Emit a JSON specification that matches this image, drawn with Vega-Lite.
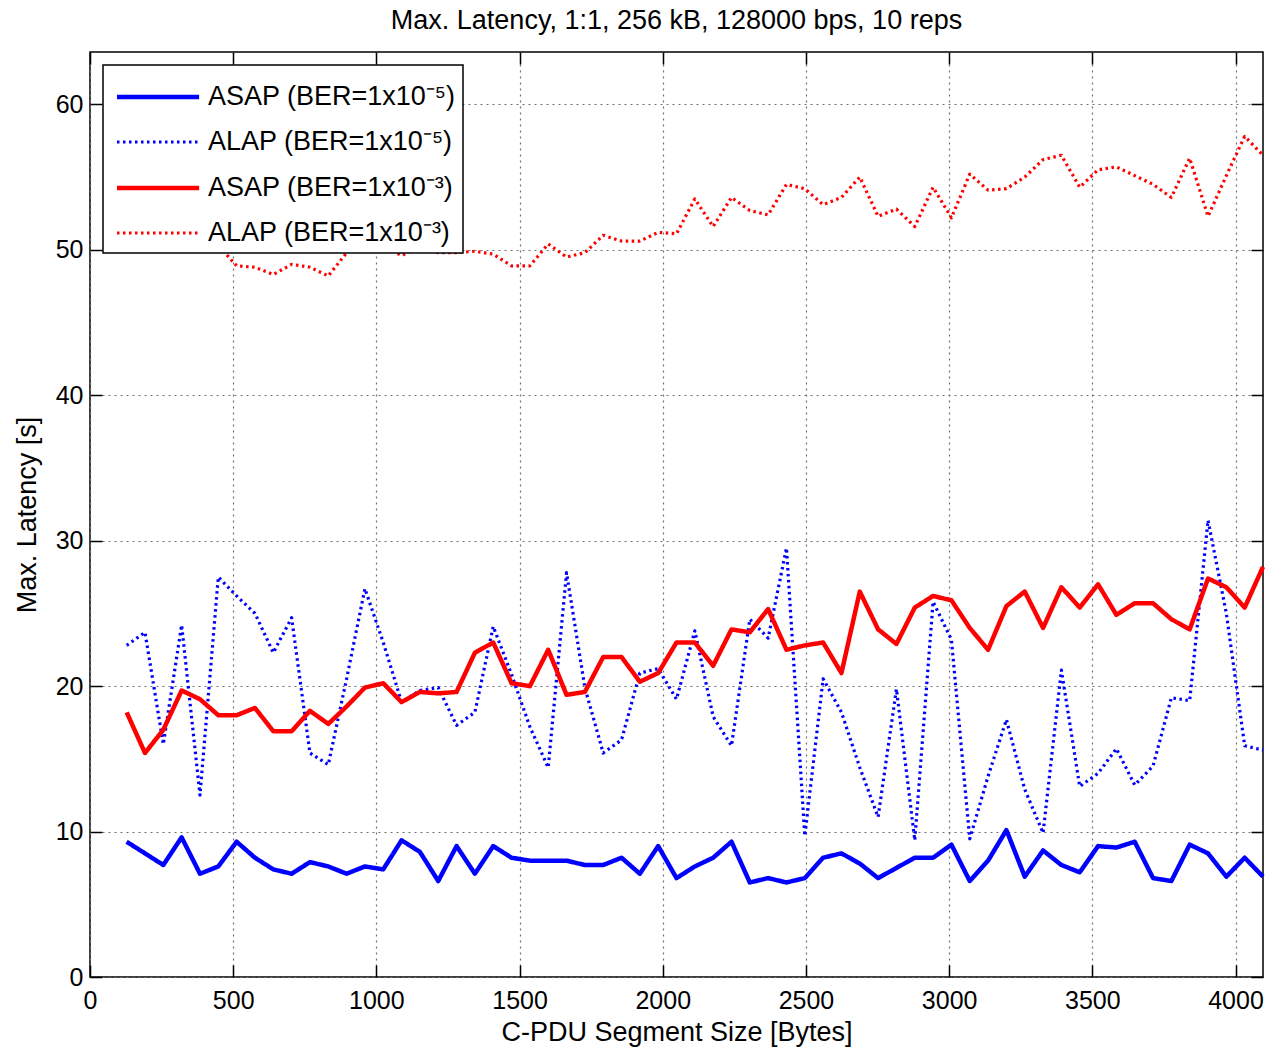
{
  "$schema": "https://vega.github.io/schema/vega-lite/v6.json",
  "autosize": {"type": "none"},
  "width": 1173,
  "height": 925,
  "padding": {"left": 90, "top": 52, "right": 6, "bottom": 73},
  "background": "white",
  "title": {
    "text": "Max. Latency, 1:1, 256 kB, 128000 bps, 10 reps",
    "font": "Liberation Sans",
    "fontSize": 27,
    "fontWeight": "normal",
    "color": "#000000",
    "anchor": "middle",
    "offset": 16
  },
  "config": {
    "view": {"stroke": "#000000", "strokeWidth": 1.5},
    "font": "Liberation Sans",
    "axis": {
      "labelFont": "Liberation Sans",
      "labelFontSize": 25,
      "labelColor": "#000000",
      "titleFont": "Liberation Sans",
      "titleFontSize": 27,
      "titleFontWeight": "normal",
      "titleColor": "#000000",
      "tickColor": "#000000",
      "tickSize": -12,
      "tickWidth": 1.5,
      "domain": false,
      "gridColor": "#707070",
      "gridDash": [2, 4],
      "gridWidth": 1.2,
      "gridOpacity": 1,
      "labelFlush": false,
      "labelOverlap": false,
      "format": "d"
    },
    "axisX": {"labelPadding": 23, "titlePadding": 6},
    "axisY": {"labelPadding": 19, "titlePadding": 14},
    "legend": {
      "orient": "top-left",
      "offset": 13,
      "fillColor": "#ffffff",
      "strokeColor": "#000000",
      "strokeWidth": 1.5,
      "cornerRadius": 0,
      "padding": 7,
      "rowPadding": 7.5,
      "labelFont": "Liberation Sans",
      "labelFontSize": 27,
      "labelColor": "#000000",
      "labelOffset": 48,
      "labelLimit": 400,
      "symbolType": "M-0.8,0H2.85",
      "symbolSize": 2025
    }
  },
  "data": {
    "values": [
      {"series": "ASAP (BER=1x10⁻⁵)", "size": 128, "latency": 9.3},
      {"series": "ASAP (BER=1x10⁻⁵)", "size": 192, "latency": 8.5},
      {"series": "ASAP (BER=1x10⁻⁵)", "size": 256, "latency": 7.7},
      {"series": "ASAP (BER=1x10⁻⁵)", "size": 320, "latency": 9.6},
      {"series": "ASAP (BER=1x10⁻⁵)", "size": 384, "latency": 7.1},
      {"series": "ASAP (BER=1x10⁻⁵)", "size": 448, "latency": 7.6},
      {"series": "ASAP (BER=1x10⁻⁵)", "size": 512, "latency": 9.3},
      {"series": "ASAP (BER=1x10⁻⁵)", "size": 576, "latency": 8.2},
      {"series": "ASAP (BER=1x10⁻⁵)", "size": 640, "latency": 7.4},
      {"series": "ASAP (BER=1x10⁻⁵)", "size": 704, "latency": 7.1},
      {"series": "ASAP (BER=1x10⁻⁵)", "size": 768, "latency": 7.9},
      {"series": "ASAP (BER=1x10⁻⁵)", "size": 832, "latency": 7.6},
      {"series": "ASAP (BER=1x10⁻⁵)", "size": 896, "latency": 7.1},
      {"series": "ASAP (BER=1x10⁻⁵)", "size": 960, "latency": 7.6},
      {"series": "ASAP (BER=1x10⁻⁵)", "size": 1024, "latency": 7.4},
      {"series": "ASAP (BER=1x10⁻⁵)", "size": 1088, "latency": 9.4},
      {"series": "ASAP (BER=1x10⁻⁵)", "size": 1152, "latency": 8.6},
      {"series": "ASAP (BER=1x10⁻⁵)", "size": 1216, "latency": 6.6},
      {"series": "ASAP (BER=1x10⁻⁵)", "size": 1280, "latency": 9.0},
      {"series": "ASAP (BER=1x10⁻⁵)", "size": 1344, "latency": 7.1},
      {"series": "ASAP (BER=1x10⁻⁵)", "size": 1408, "latency": 9.0},
      {"series": "ASAP (BER=1x10⁻⁵)", "size": 1472, "latency": 8.2},
      {"series": "ASAP (BER=1x10⁻⁵)", "size": 1536, "latency": 8.0},
      {"series": "ASAP (BER=1x10⁻⁵)", "size": 1600, "latency": 8.0},
      {"series": "ASAP (BER=1x10⁻⁵)", "size": 1664, "latency": 8.0},
      {"series": "ASAP (BER=1x10⁻⁵)", "size": 1728, "latency": 7.7},
      {"series": "ASAP (BER=1x10⁻⁵)", "size": 1792, "latency": 7.7},
      {"series": "ASAP (BER=1x10⁻⁵)", "size": 1856, "latency": 8.2},
      {"series": "ASAP (BER=1x10⁻⁵)", "size": 1920, "latency": 7.1},
      {"series": "ASAP (BER=1x10⁻⁵)", "size": 1984, "latency": 9.0},
      {"series": "ASAP (BER=1x10⁻⁵)", "size": 2048, "latency": 6.8},
      {"series": "ASAP (BER=1x10⁻⁵)", "size": 2112, "latency": 7.6},
      {"series": "ASAP (BER=1x10⁻⁵)", "size": 2176, "latency": 8.2},
      {"series": "ASAP (BER=1x10⁻⁵)", "size": 2240, "latency": 9.3},
      {"series": "ASAP (BER=1x10⁻⁵)", "size": 2304, "latency": 6.5},
      {"series": "ASAP (BER=1x10⁻⁵)", "size": 2368, "latency": 6.8},
      {"series": "ASAP (BER=1x10⁻⁵)", "size": 2432, "latency": 6.5},
      {"series": "ASAP (BER=1x10⁻⁵)", "size": 2496, "latency": 6.8},
      {"series": "ASAP (BER=1x10⁻⁵)", "size": 2560, "latency": 8.2},
      {"series": "ASAP (BER=1x10⁻⁵)", "size": 2624, "latency": 8.5},
      {"series": "ASAP (BER=1x10⁻⁵)", "size": 2688, "latency": 7.8},
      {"series": "ASAP (BER=1x10⁻⁵)", "size": 2752, "latency": 6.8},
      {"series": "ASAP (BER=1x10⁻⁵)", "size": 2816, "latency": 7.5},
      {"series": "ASAP (BER=1x10⁻⁵)", "size": 2880, "latency": 8.2},
      {"series": "ASAP (BER=1x10⁻⁵)", "size": 2944, "latency": 8.2},
      {"series": "ASAP (BER=1x10⁻⁵)", "size": 3008, "latency": 9.1},
      {"series": "ASAP (BER=1x10⁻⁵)", "size": 3072, "latency": 6.6},
      {"series": "ASAP (BER=1x10⁻⁵)", "size": 3136, "latency": 8.0},
      {"series": "ASAP (BER=1x10⁻⁵)", "size": 3200, "latency": 10.1},
      {"series": "ASAP (BER=1x10⁻⁵)", "size": 3264, "latency": 6.9},
      {"series": "ASAP (BER=1x10⁻⁵)", "size": 3328, "latency": 8.7},
      {"series": "ASAP (BER=1x10⁻⁵)", "size": 3392, "latency": 7.7},
      {"series": "ASAP (BER=1x10⁻⁵)", "size": 3456, "latency": 7.2},
      {"series": "ASAP (BER=1x10⁻⁵)", "size": 3520, "latency": 9.0},
      {"series": "ASAP (BER=1x10⁻⁵)", "size": 3584, "latency": 8.9},
      {"series": "ASAP (BER=1x10⁻⁵)", "size": 3648, "latency": 9.3},
      {"series": "ASAP (BER=1x10⁻⁵)", "size": 3712, "latency": 6.8},
      {"series": "ASAP (BER=1x10⁻⁵)", "size": 3776, "latency": 6.6},
      {"series": "ASAP (BER=1x10⁻⁵)", "size": 3840, "latency": 9.1},
      {"series": "ASAP (BER=1x10⁻⁵)", "size": 3904, "latency": 8.5},
      {"series": "ASAP (BER=1x10⁻⁵)", "size": 3968, "latency": 6.9},
      {"series": "ASAP (BER=1x10⁻⁵)", "size": 4032, "latency": 8.2},
      {"series": "ASAP (BER=1x10⁻⁵)", "size": 4096, "latency": 6.9},

      {"series": "ALAP (BER=1x10⁻⁵)", "size": 128, "latency": 22.8},
      {"series": "ALAP (BER=1x10⁻⁵)", "size": 192, "latency": 23.7},
      {"series": "ALAP (BER=1x10⁻⁵)", "size": 256, "latency": 16.0},
      {"series": "ALAP (BER=1x10⁻⁵)", "size": 320, "latency": 24.2},
      {"series": "ALAP (BER=1x10⁻⁵)", "size": 384, "latency": 12.5},
      {"series": "ALAP (BER=1x10⁻⁵)", "size": 448, "latency": 27.5},
      {"series": "ALAP (BER=1x10⁻⁵)", "size": 512, "latency": 26.2},
      {"series": "ALAP (BER=1x10⁻⁵)", "size": 576, "latency": 25.0},
      {"series": "ALAP (BER=1x10⁻⁵)", "size": 640, "latency": 22.3},
      {"series": "ALAP (BER=1x10⁻⁵)", "size": 704, "latency": 24.7},
      {"series": "ALAP (BER=1x10⁻⁵)", "size": 768, "latency": 15.4},
      {"series": "ALAP (BER=1x10⁻⁵)", "size": 832, "latency": 14.6},
      {"series": "ALAP (BER=1x10⁻⁵)", "size": 896, "latency": 20.5},
      {"series": "ALAP (BER=1x10⁻⁵)", "size": 960, "latency": 26.7},
      {"series": "ALAP (BER=1x10⁻⁵)", "size": 1024, "latency": 23.0},
      {"series": "ALAP (BER=1x10⁻⁵)", "size": 1088, "latency": 18.9},
      {"series": "ALAP (BER=1x10⁻⁵)", "size": 1152, "latency": 19.7},
      {"series": "ALAP (BER=1x10⁻⁵)", "size": 1216, "latency": 19.9},
      {"series": "ALAP (BER=1x10⁻⁵)", "size": 1280, "latency": 17.3},
      {"series": "ALAP (BER=1x10⁻⁵)", "size": 1344, "latency": 18.2},
      {"series": "ALAP (BER=1x10⁻⁵)", "size": 1408, "latency": 24.1},
      {"series": "ALAP (BER=1x10⁻⁵)", "size": 1472, "latency": 20.8},
      {"series": "ALAP (BER=1x10⁻⁵)", "size": 1536, "latency": 17.2},
      {"series": "ALAP (BER=1x10⁻⁵)", "size": 1600, "latency": 14.4},
      {"series": "ALAP (BER=1x10⁻⁵)", "size": 1664, "latency": 27.8},
      {"series": "ALAP (BER=1x10⁻⁵)", "size": 1728, "latency": 19.9},
      {"series": "ALAP (BER=1x10⁻⁵)", "size": 1792, "latency": 15.4},
      {"series": "ALAP (BER=1x10⁻⁵)", "size": 1856, "latency": 16.3},
      {"series": "ALAP (BER=1x10⁻⁵)", "size": 1920, "latency": 20.9},
      {"series": "ALAP (BER=1x10⁻⁵)", "size": 1984, "latency": 21.2},
      {"series": "ALAP (BER=1x10⁻⁵)", "size": 2048, "latency": 19.1},
      {"series": "ALAP (BER=1x10⁻⁵)", "size": 2112, "latency": 23.8},
      {"series": "ALAP (BER=1x10⁻⁵)", "size": 2176, "latency": 17.9},
      {"series": "ALAP (BER=1x10⁻⁵)", "size": 2240, "latency": 15.9},
      {"series": "ALAP (BER=1x10⁻⁵)", "size": 2304, "latency": 24.6},
      {"series": "ALAP (BER=1x10⁻⁵)", "size": 2368, "latency": 23.3},
      {"series": "ALAP (BER=1x10⁻⁵)", "size": 2432, "latency": 29.5},
      {"series": "ALAP (BER=1x10⁻⁵)", "size": 2496, "latency": 9.7},
      {"series": "ALAP (BER=1x10⁻⁵)", "size": 2560, "latency": 20.5},
      {"series": "ALAP (BER=1x10⁻⁵)", "size": 2624, "latency": 18.2},
      {"series": "ALAP (BER=1x10⁻⁵)", "size": 2688, "latency": 14.4},
      {"series": "ALAP (BER=1x10⁻⁵)", "size": 2752, "latency": 11.0},
      {"series": "ALAP (BER=1x10⁻⁵)", "size": 2816, "latency": 19.8},
      {"series": "ALAP (BER=1x10⁻⁵)", "size": 2880, "latency": 9.4},
      {"series": "ALAP (BER=1x10⁻⁵)", "size": 2944, "latency": 25.8},
      {"series": "ALAP (BER=1x10⁻⁵)", "size": 3008, "latency": 23.2},
      {"series": "ALAP (BER=1x10⁻⁵)", "size": 3072, "latency": 9.5},
      {"series": "ALAP (BER=1x10⁻⁵)", "size": 3136, "latency": 13.8},
      {"series": "ALAP (BER=1x10⁻⁵)", "size": 3200, "latency": 17.7},
      {"series": "ALAP (BER=1x10⁻⁵)", "size": 3264, "latency": 12.9},
      {"series": "ALAP (BER=1x10⁻⁵)", "size": 3328, "latency": 9.9},
      {"series": "ALAP (BER=1x10⁻⁵)", "size": 3392, "latency": 21.1},
      {"series": "ALAP (BER=1x10⁻⁵)", "size": 3456, "latency": 13.1},
      {"series": "ALAP (BER=1x10⁻⁵)", "size": 3520, "latency": 14.0},
      {"series": "ALAP (BER=1x10⁻⁵)", "size": 3584, "latency": 15.7},
      {"series": "ALAP (BER=1x10⁻⁵)", "size": 3648, "latency": 13.2},
      {"series": "ALAP (BER=1x10⁻⁵)", "size": 3712, "latency": 14.5},
      {"series": "ALAP (BER=1x10⁻⁵)", "size": 3776, "latency": 19.2},
      {"series": "ALAP (BER=1x10⁻⁵)", "size": 3840, "latency": 19.0},
      {"series": "ALAP (BER=1x10⁻⁵)", "size": 3904, "latency": 31.4},
      {"series": "ALAP (BER=1x10⁻⁵)", "size": 3968, "latency": 25.0},
      {"series": "ALAP (BER=1x10⁻⁵)", "size": 4032, "latency": 15.9},
      {"series": "ALAP (BER=1x10⁻⁵)", "size": 4096, "latency": 15.6},

      {"series": "ASAP (BER=1x10⁻³)", "size": 128, "latency": 18.2},
      {"series": "ASAP (BER=1x10⁻³)", "size": 192, "latency": 15.4},
      {"series": "ASAP (BER=1x10⁻³)", "size": 256, "latency": 17.0},
      {"series": "ASAP (BER=1x10⁻³)", "size": 320, "latency": 19.7},
      {"series": "ASAP (BER=1x10⁻³)", "size": 384, "latency": 19.1},
      {"series": "ASAP (BER=1x10⁻³)", "size": 448, "latency": 18.0},
      {"series": "ASAP (BER=1x10⁻³)", "size": 512, "latency": 18.0},
      {"series": "ASAP (BER=1x10⁻³)", "size": 576, "latency": 18.5},
      {"series": "ASAP (BER=1x10⁻³)", "size": 640, "latency": 16.9},
      {"series": "ASAP (BER=1x10⁻³)", "size": 704, "latency": 16.9},
      {"series": "ASAP (BER=1x10⁻³)", "size": 768, "latency": 18.3},
      {"series": "ASAP (BER=1x10⁻³)", "size": 832, "latency": 17.4},
      {"series": "ASAP (BER=1x10⁻³)", "size": 896, "latency": 18.6},
      {"series": "ASAP (BER=1x10⁻³)", "size": 960, "latency": 19.9},
      {"series": "ASAP (BER=1x10⁻³)", "size": 1024, "latency": 20.2},
      {"series": "ASAP (BER=1x10⁻³)", "size": 1088, "latency": 18.9},
      {"series": "ASAP (BER=1x10⁻³)", "size": 1152, "latency": 19.6},
      {"series": "ASAP (BER=1x10⁻³)", "size": 1216, "latency": 19.5},
      {"series": "ASAP (BER=1x10⁻³)", "size": 1280, "latency": 19.6},
      {"series": "ASAP (BER=1x10⁻³)", "size": 1344, "latency": 22.3},
      {"series": "ASAP (BER=1x10⁻³)", "size": 1408, "latency": 23.0},
      {"series": "ASAP (BER=1x10⁻³)", "size": 1472, "latency": 20.2},
      {"series": "ASAP (BER=1x10⁻³)", "size": 1536, "latency": 20.0},
      {"series": "ASAP (BER=1x10⁻³)", "size": 1600, "latency": 22.5},
      {"series": "ASAP (BER=1x10⁻³)", "size": 1664, "latency": 19.4},
      {"series": "ASAP (BER=1x10⁻³)", "size": 1728, "latency": 19.6},
      {"series": "ASAP (BER=1x10⁻³)", "size": 1792, "latency": 22.0},
      {"series": "ASAP (BER=1x10⁻³)", "size": 1856, "latency": 22.0},
      {"series": "ASAP (BER=1x10⁻³)", "size": 1920, "latency": 20.3},
      {"series": "ASAP (BER=1x10⁻³)", "size": 1984, "latency": 20.9},
      {"series": "ASAP (BER=1x10⁻³)", "size": 2048, "latency": 23.0},
      {"series": "ASAP (BER=1x10⁻³)", "size": 2112, "latency": 23.0},
      {"series": "ASAP (BER=1x10⁻³)", "size": 2176, "latency": 21.4},
      {"series": "ASAP (BER=1x10⁻³)", "size": 2240, "latency": 23.9},
      {"series": "ASAP (BER=1x10⁻³)", "size": 2304, "latency": 23.7},
      {"series": "ASAP (BER=1x10⁻³)", "size": 2368, "latency": 25.3},
      {"series": "ASAP (BER=1x10⁻³)", "size": 2432, "latency": 22.5},
      {"series": "ASAP (BER=1x10⁻³)", "size": 2496, "latency": 22.8},
      {"series": "ASAP (BER=1x10⁻³)", "size": 2560, "latency": 23.0},
      {"series": "ASAP (BER=1x10⁻³)", "size": 2624, "latency": 20.9},
      {"series": "ASAP (BER=1x10⁻³)", "size": 2688, "latency": 26.5},
      {"series": "ASAP (BER=1x10⁻³)", "size": 2752, "latency": 23.9},
      {"series": "ASAP (BER=1x10⁻³)", "size": 2816, "latency": 22.9},
      {"series": "ASAP (BER=1x10⁻³)", "size": 2880, "latency": 25.4},
      {"series": "ASAP (BER=1x10⁻³)", "size": 2944, "latency": 26.2},
      {"series": "ASAP (BER=1x10⁻³)", "size": 3008, "latency": 25.9},
      {"series": "ASAP (BER=1x10⁻³)", "size": 3072, "latency": 24.0},
      {"series": "ASAP (BER=1x10⁻³)", "size": 3136, "latency": 22.5},
      {"series": "ASAP (BER=1x10⁻³)", "size": 3200, "latency": 25.5},
      {"series": "ASAP (BER=1x10⁻³)", "size": 3264, "latency": 26.5},
      {"series": "ASAP (BER=1x10⁻³)", "size": 3328, "latency": 24.0},
      {"series": "ASAP (BER=1x10⁻³)", "size": 3392, "latency": 26.8},
      {"series": "ASAP (BER=1x10⁻³)", "size": 3456, "latency": 25.4},
      {"series": "ASAP (BER=1x10⁻³)", "size": 3520, "latency": 27.0},
      {"series": "ASAP (BER=1x10⁻³)", "size": 3584, "latency": 24.9},
      {"series": "ASAP (BER=1x10⁻³)", "size": 3648, "latency": 25.7},
      {"series": "ASAP (BER=1x10⁻³)", "size": 3712, "latency": 25.7},
      {"series": "ASAP (BER=1x10⁻³)", "size": 3776, "latency": 24.6},
      {"series": "ASAP (BER=1x10⁻³)", "size": 3840, "latency": 23.9},
      {"series": "ASAP (BER=1x10⁻³)", "size": 3904, "latency": 27.4},
      {"series": "ASAP (BER=1x10⁻³)", "size": 3968, "latency": 26.8},
      {"series": "ASAP (BER=1x10⁻³)", "size": 4032, "latency": 25.4},
      {"series": "ASAP (BER=1x10⁻³)", "size": 4096, "latency": 28.2},

      {"series": "ALAP (BER=1x10⁻³)", "size": 128, "latency": 51.5},
      {"series": "ALAP (BER=1x10⁻³)", "size": 192, "latency": 50.8},
      {"series": "ALAP (BER=1x10⁻³)", "size": 256, "latency": 52.0},
      {"series": "ALAP (BER=1x10⁻³)", "size": 320, "latency": 51.2},
      {"series": "ALAP (BER=1x10⁻³)", "size": 384, "latency": 50.6},
      {"series": "ALAP (BER=1x10⁻³)", "size": 448, "latency": 50.3},
      {"series": "ALAP (BER=1x10⁻³)", "size": 512, "latency": 48.9},
      {"series": "ALAP (BER=1x10⁻³)", "size": 576, "latency": 48.8},
      {"series": "ALAP (BER=1x10⁻³)", "size": 640, "latency": 48.3},
      {"series": "ALAP (BER=1x10⁻³)", "size": 704, "latency": 49.0},
      {"series": "ALAP (BER=1x10⁻³)", "size": 768, "latency": 48.8},
      {"series": "ALAP (BER=1x10⁻³)", "size": 832, "latency": 48.2},
      {"series": "ALAP (BER=1x10⁻³)", "size": 896, "latency": 49.8},
      {"series": "ALAP (BER=1x10⁻³)", "size": 960, "latency": 50.5},
      {"series": "ALAP (BER=1x10⁻³)", "size": 1024, "latency": 50.3},
      {"series": "ALAP (BER=1x10⁻³)", "size": 1088, "latency": 49.6},
      {"series": "ALAP (BER=1x10⁻³)", "size": 1152, "latency": 50.2},
      {"series": "ALAP (BER=1x10⁻³)", "size": 1216, "latency": 49.8},
      {"series": "ALAP (BER=1x10⁻³)", "size": 1280, "latency": 49.8},
      {"series": "ALAP (BER=1x10⁻³)", "size": 1344, "latency": 49.9},
      {"series": "ALAP (BER=1x10⁻³)", "size": 1408, "latency": 49.7},
      {"series": "ALAP (BER=1x10⁻³)", "size": 1472, "latency": 48.9},
      {"series": "ALAP (BER=1x10⁻³)", "size": 1536, "latency": 48.9},
      {"series": "ALAP (BER=1x10⁻³)", "size": 1600, "latency": 50.4},
      {"series": "ALAP (BER=1x10⁻³)", "size": 1664, "latency": 49.5},
      {"series": "ALAP (BER=1x10⁻³)", "size": 1728, "latency": 49.8},
      {"series": "ALAP (BER=1x10⁻³)", "size": 1792, "latency": 51.0},
      {"series": "ALAP (BER=1x10⁻³)", "size": 1856, "latency": 50.6},
      {"series": "ALAP (BER=1x10⁻³)", "size": 1920, "latency": 50.6},
      {"series": "ALAP (BER=1x10⁻³)", "size": 1984, "latency": 51.2},
      {"series": "ALAP (BER=1x10⁻³)", "size": 2048, "latency": 51.1},
      {"series": "ALAP (BER=1x10⁻³)", "size": 2112, "latency": 53.5},
      {"series": "ALAP (BER=1x10⁻³)", "size": 2176, "latency": 51.6},
      {"series": "ALAP (BER=1x10⁻³)", "size": 2240, "latency": 53.6},
      {"series": "ALAP (BER=1x10⁻³)", "size": 2304, "latency": 52.7},
      {"series": "ALAP (BER=1x10⁻³)", "size": 2368, "latency": 52.4},
      {"series": "ALAP (BER=1x10⁻³)", "size": 2432, "latency": 54.5},
      {"series": "ALAP (BER=1x10⁻³)", "size": 2496, "latency": 54.2},
      {"series": "ALAP (BER=1x10⁻³)", "size": 2560, "latency": 53.1},
      {"series": "ALAP (BER=1x10⁻³)", "size": 2624, "latency": 53.6},
      {"series": "ALAP (BER=1x10⁻³)", "size": 2688, "latency": 55.0},
      {"series": "ALAP (BER=1x10⁻³)", "size": 2752, "latency": 52.3},
      {"series": "ALAP (BER=1x10⁻³)", "size": 2816, "latency": 52.8},
      {"series": "ALAP (BER=1x10⁻³)", "size": 2880, "latency": 51.6},
      {"series": "ALAP (BER=1x10⁻³)", "size": 2944, "latency": 54.3},
      {"series": "ALAP (BER=1x10⁻³)", "size": 3008, "latency": 52.2},
      {"series": "ALAP (BER=1x10⁻³)", "size": 3072, "latency": 55.2},
      {"series": "ALAP (BER=1x10⁻³)", "size": 3136, "latency": 54.1},
      {"series": "ALAP (BER=1x10⁻³)", "size": 3200, "latency": 54.2},
      {"series": "ALAP (BER=1x10⁻³)", "size": 3264, "latency": 55.0},
      {"series": "ALAP (BER=1x10⁻³)", "size": 3328, "latency": 56.2},
      {"series": "ALAP (BER=1x10⁻³)", "size": 3392, "latency": 56.5},
      {"series": "ALAP (BER=1x10⁻³)", "size": 3456, "latency": 54.3},
      {"series": "ALAP (BER=1x10⁻³)", "size": 3520, "latency": 55.5},
      {"series": "ALAP (BER=1x10⁻³)", "size": 3584, "latency": 55.7},
      {"series": "ALAP (BER=1x10⁻³)", "size": 3648, "latency": 55.1},
      {"series": "ALAP (BER=1x10⁻³)", "size": 3712, "latency": 54.5},
      {"series": "ALAP (BER=1x10⁻³)", "size": 3776, "latency": 53.6},
      {"series": "ALAP (BER=1x10⁻³)", "size": 3840, "latency": 56.3},
      {"series": "ALAP (BER=1x10⁻³)", "size": 3904, "latency": 52.3},
      {"series": "ALAP (BER=1x10⁻³)", "size": 3968, "latency": 55.1},
      {"series": "ALAP (BER=1x10⁻³)", "size": 4032, "latency": 57.8},
      {"series": "ALAP (BER=1x10⁻³)", "size": 4096, "latency": 56.5}
    ]
  },
  "layer": [
    {
      "mark": {"type": "line", "strokeCap": "butt", "strokeJoin": "round"},
      "encoding": {
        "x": {
          "field": "size",
          "type": "quantitative",
          "scale": {"domain": [0, 4096], "nice": false, "zero": false},
          "axis": {
            "orient": "bottom",
            "values": [0, 500, 1000, 1500, 2000, 2500, 3000, 3500, 4000],
            "grid": true,
            "title": "C-PDU Segment Size [Bytes]"
          }
        },
        "y": {
          "field": "latency",
          "type": "quantitative",
          "scale": {"domain": [0, 63.6], "nice": false, "zero": false},
          "axis": {
            "orient": "left",
            "values": [0, 10, 20, 30, 40, 50, 60],
            "grid": true,
            "title": "Max. Latency [s]"
          }
        },
        "color": {
          "field": "series",
          "type": "nominal",
          "scale": {
            "domain": ["ASAP (BER=1x10⁻⁵)", "ALAP (BER=1x10⁻⁵)", "ASAP (BER=1x10⁻³)", "ALAP (BER=1x10⁻³)"],
            "range": ["#0000ff", "#0000ff", "#ff0000", "#ff0000"]
          },
          "legend": {"title": null}
        },
        "strokeDash": {
          "field": "series",
          "type": "nominal",
          "scale": {
            "type": "ordinal",
            "domain": ["ASAP (BER=1x10⁻⁵)", "ALAP (BER=1x10⁻⁵)", "ASAP (BER=1x10⁻³)", "ALAP (BER=1x10⁻³)"],
            "range": [[1, 0], [2.5, 3.5], [1, 0], [2.5, 3.5]]
          },
          "legend": {"title": null}
        },
        "strokeWidth": {
          "field": "series",
          "type": "nominal",
          "scale": {
            "type": "ordinal",
            "domain": ["ASAP (BER=1x10⁻⁵)", "ALAP (BER=1x10⁻⁵)", "ASAP (BER=1x10⁻³)", "ALAP (BER=1x10⁻³)"],
            "range": [4.5, 3.2, 4.5, 3.2]
          },
          "legend": {"title": null}
        }
      }
    },
    {
      "mark": {"type": "line", "opacity": 0},
      "encoding": {
        "x": {
          "field": "size",
          "type": "quantitative",
          "axis": {
            "orient": "top",
            "values": [0, 500, 1000, 1500, 2000, 2500, 3000, 3500, 4000],
            "labels": false,
            "grid": false,
            "title": null
          }
        },
        "y": {
          "field": "latency",
          "type": "quantitative",
          "axis": {
            "orient": "right",
            "values": [0, 10, 20, 30, 40, 50, 60],
            "labels": false,
            "grid": false,
            "title": null
          }
        },
        "detail": {"field": "series", "type": "nominal"}
      }
    }
  ],
  "resolve": {"axis": {"x": "independent", "y": "independent"}}
}
